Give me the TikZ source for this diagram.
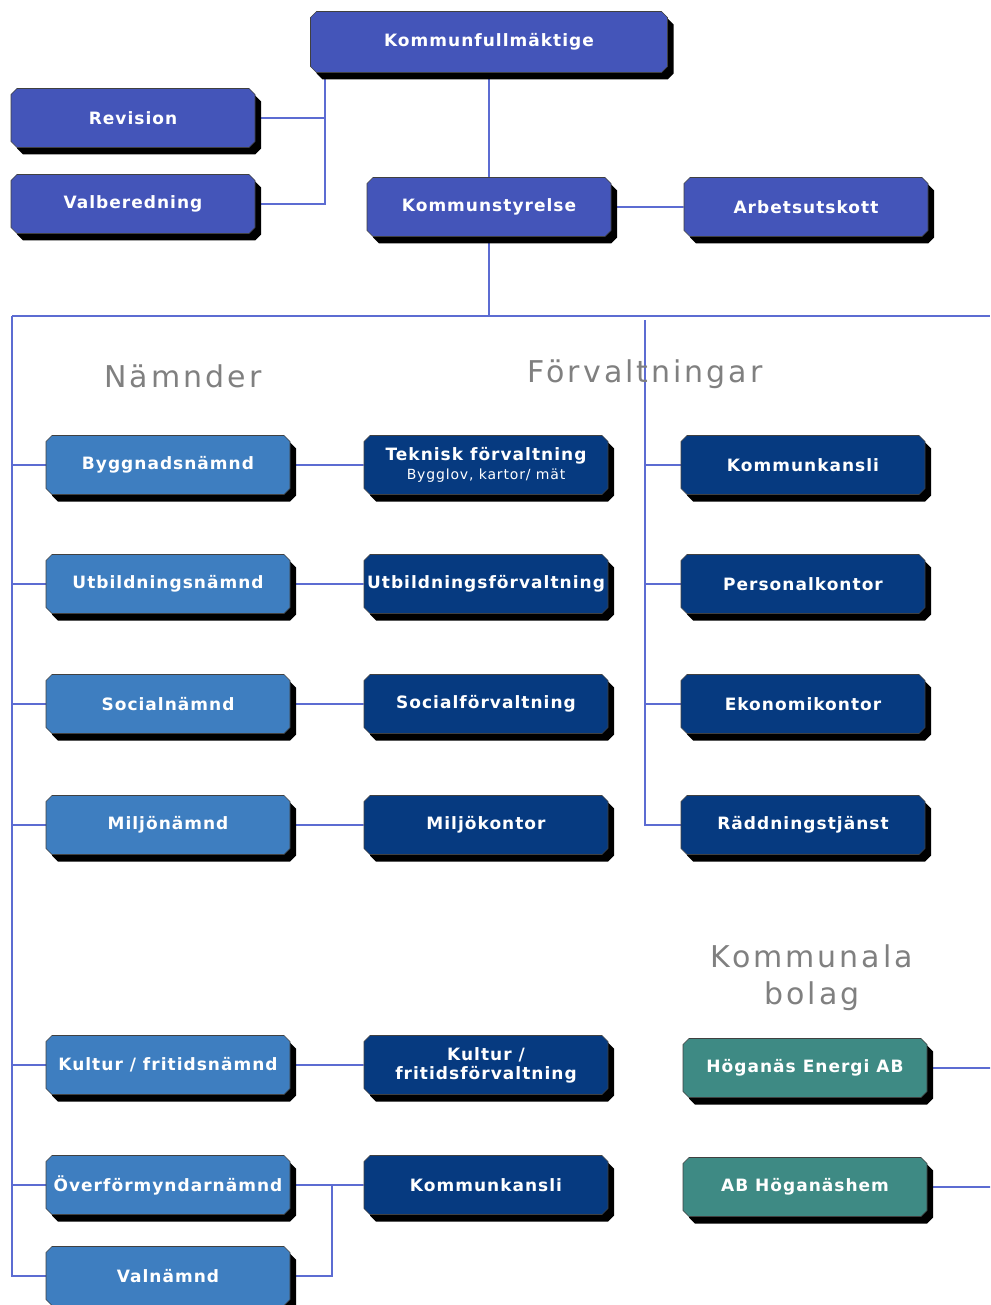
\documentclass[tikz,border=0pt]{standalone}
\usepackage{fontspec}
\setsansfont{DejaVu Sans}
\newfontfamily\boxfont{DejaVu Sans}[LetterSpace=6]
\newfontfamily\headfont{DejaVu Sans}[LetterSpace=10]
\usepackage{tikz}
\usetikzlibrary{shapes.misc}
\usetikzlibrary{shadows}
\usetikzlibrary{backgrounds}
\usepackage{xcolor}
\definecolor{topblue}{RGB}{68,85,185}
\definecolor{namblue}{RGB}{62,126,192}
\definecolor{forvblue}{RGB}{6,58,128}
\definecolor{bolteal}{RGB}{62,138,132}
\definecolor{linkblue}{RGB}{92,108,210}
\definecolor{headgray}{RGB}{128,128,128}

\begin{document}
\begin{tikzpicture}[x=1pt,y=-1pt,
box/.style={chamfered rectangle,chamfered rectangle xsep=3pt,chamfered rectangle ysep=3pt,draw=black!75,line width=0.6pt,text=white,font=\boxfont\bfseries\fontsize{17}{19}\selectfont,align=center,minimum width=244pt,minimum height=59pt,inner sep=0pt,drop shadow={shadow xshift=6pt,shadow yshift=-7pt,opacity=1,fill=black}},
tops/.style={box,fill=topblue},
nams/.style={box,fill=namblue},
forvs/.style={box,fill=forvblue},
bolags/.style={box,fill=bolteal},
link/.style={draw=linkblue,line width=1.8pt},
heading/.style={text=headgray,font=\headfont\fontsize{30}{37}\selectfont,align=center}]
\useasboundingbox (0,0) rectangle (990,1305);

\node [tops,minimum width=357pt,minimum height=61pt] (kf) at (489,42) {Kommunfullmäktige};
\node [tops] (rev) at (133,118) {Revision};
\node [tops] (valb) at (133,204) {Valberedning};
\node [tops] (ks) at (489,207) {Kommunstyrelse};
\node [tops] (au) at (806,207) {Arbetsutskott};

\node [heading] (namhead) at (183,376) {Nämnder};
\node [heading] (forvhead) at (645,374) {Förvaltningar};
\node [heading] (bolhead) at (812,978) {Kommunala\\bolag};

% nämnder
\node [nams] (nam-1) at (168,465) {Byggnadsnämnd};
\node [nams] (nam-2) at (168,584) {Utbildningsnämnd};
\node [nams] (nam-3) at (168,704) {Socialnämnd};
\node [nams] (nam-4) at (168,825) {Miljönämnd};
\node [nams] (nam-5) at (168,1065) {Kultur / fritidsnämnd};
\node [nams] (nam-6) at (168,1185) {Överförmyndarnämnd};
\node [nams] (nam-7) at (168,1276) {Valnämnd};

% förvaltningar
\node [forvs] (forv-1) at (486,465) {Teknisk förvaltning\\[0pt]{\mdseries\fontsize{14}{16}\selectfont Bygglov, kartor/ mät}};
\node [forvs] (forv-2) at (486,584) {Utbildningsförvaltning};
\node [forvs] (forv-3) at (486,704) {Socialförvaltning};
\node [forvs] (forv-4) at (486,825) {Miljökontor};
\node [forvs] (forv-5) at (486,1065) {Kultur /\\fritidsförvaltning};
\node [forvs] (forv-6) at (486,1185) {Kommunkansli};

\node [forvs] (kans-1) at (803,465) {Kommunkansli};
\node [forvs] (kans-2) at (803,584) {Personalkontor};
\node [forvs] (kans-3) at (803,704) {Ekonomikontor};
\node [forvs] (kans-4) at (803,825) {Räddningstjänst};

% bolag
\node [bolags] (bol-1) at (805,1068) {Höganäs Energi AB};
\node [bolags] (bol-2) at (805,1187) {AB Höganäshem};

\coordinate (rvbar) at (325,205);
\coordinate (bus) at (489,316);
\coordinate (trunk) at (12,316);
\coordinate (busend) at (990,316);
\coordinate (ktrunk) at (645,320);
\coordinate (ofbar) at (332,1185);

\begin{scope}[on background layer]
\draw [link] (kf) -- (ks);
\draw [link] (rev.east) -- (rev.east -| rvbar);
\draw [link] (valb.east) -| (kf.south -| rvbar);
\draw [link] (ks) -- (au);
\draw [link] (ks) -- (bus);
\draw [link] (trunk) -- (busend);
\foreach \i in {1,...,7}
    \draw [link] (trunk) |- (nam-\i.west);
\foreach \i in {1,...,6}
    \draw [link] (nam-\i) -- (forv-\i);
\draw [link] (nam-7.east) -| (ofbar);
\foreach \i in {1,...,4}
    \draw [link] (ktrunk) |- (kans-\i.west);
\foreach \i in {1,2}
    \draw [link] (bol-\i) -- (bol-\i -| busend);
\end{scope}
\end{tikzpicture}
\end{document}
